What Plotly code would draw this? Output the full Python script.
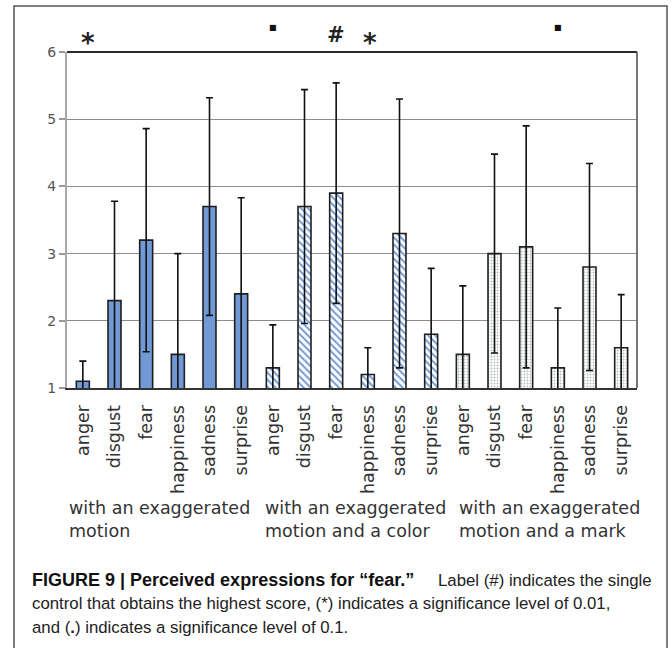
import plotly.graph_objects as go

# Emotion categories shown within each condition
emotions = ["anger", "disgust", "fear", "happiness", "sadness", "surprise"]

# Condition labels (shown beneath each block of six bars)
conditions = [
    "with an exaggerated<br>motion",
    "with an exaggerated<br>motion and a color",
    "with an exaggerated<br>motion and a mark",
]

# Mean perceived scores and standard deviations per condition
motion_mean = [1.1, 2.3, 3.2, 1.5, 3.7, 2.4]
motion_sd = [0.30, 1.48, 1.66, 1.50, 1.62, 1.43]

color_mean = [1.3, 3.7, 3.9, 1.2, 3.3, 1.8]
color_sd = [0.64, 1.74, 1.64, 0.40, 2.00, 0.98]

mark_mean = [1.5, 3.0, 3.1, 1.3, 2.8, 1.6]
mark_sd = [1.02, 1.48, 1.80, 0.89, 1.54, 0.79]

# Significance markers: position (bar index) and symbol
sig_index = [0, 6, 8, 9, 15]
sig_symbol = ["*", "■", "#", "*", "■"]

y_ticks = [1, 2, 3, 4, 5, 6]

# Caption text
caption_title = "<b>FIGURE 9 | Perceived expressions for “fear.”</b>"
caption_first = "Label (#) indicates the single"
caption_rest = [
    "control that obtains the highest score, (*) indicates a significance level of 0.01,",
    "and (<b>.</b>) indicates a significance level of 0.1.",
]

# ---- layout geometry (pixels) ----
W, H = 672, 648
PL, PR, PT, PB = 67, 637, 52, 388
pw, ph = PR - PL, PB - PT


def px_x(px):
    return (px - PL) / pw


def px_y(py):
    return (PB - py) / ph


n = len(emotions)
n_all = 3 * n
BLUE = "#7099d6"
EDGE = "#1f1f1f"


def idx_to_paper(i):
    return (i + 0.5) / n_all


fig = go.Figure()

series = [
    (motion_mean, motion_sd, None),
    (color_mean, color_sd, dict(shape="\\", fgcolor=BLUE, bgcolor="white",
                                size=5, solidity=0.4, fillmode="replace")),
    (mark_mean, mark_sd, dict(shape=".", fgcolor="#b9c0bf", bgcolor="white",
                              size=3, solidity=0.3, fillmode="replace")),
]

for g, (mean, sd, pattern) in enumerate(series):
    xs = [g * n + i for i in range(n)]
    marker = dict(color=BLUE if g == 0 else "white",
                  line=dict(color=EDGE, width=1.6))
    if pattern:
        marker["pattern"] = pattern
    fig.add_trace(go.Bar(
        x=xs, y=mean, width=0.41,
        marker=marker,
        error_y=dict(type="data", array=sd, visible=True,
                     color="#111111", thickness=1.6, width=3.5),
        showlegend=False,
        name=conditions[g].replace("<br>", " "),
    ))

fig.update_xaxes(
    range=[-0.5, n_all - 0.5],
    tickmode="array",
    tickvals=list(range(n_all)),
    ticktext=emotions * 3,
    tickangle=-90,
    ticks="",
    ticklabelstandoff=8,
    tickfont=dict(family="DejaVu Sans", size=17.5, color="#333333"),
    showgrid=False,
    showline=True, linecolor="#333333", linewidth=2,
    zeroline=False,
)
fig.update_yaxes(
    range=[1, 6],
    tickmode="array",
    tickvals=y_ticks,
    ticks="outside", ticklen=6, tickcolor="#9a9a9a", tickwidth=1.5,
    tickfont=dict(family="DejaVu Sans", size=14, color="#555555"),
    showgrid=True, gridcolor="#8c8c8c", gridwidth=1.3,
    showline=True, linecolor="#a8a8a8", linewidth=2,
    zeroline=False,
)

shapes = [
    # top border of plotting area (at y = 6)
    dict(type="line", xref="paper", yref="paper", x0=0, x1=1, y0=1, y1=1,
         line=dict(color="#2a2a2a", width=2)),
    # right border of plotting area
    dict(type="line", xref="paper", yref="paper", x0=1, x1=1, y0=0, y1=1,
         line=dict(color="#555555", width=1.6)),
    # outer frame around figure and caption
    dict(type="rect", xref="paper", yref="paper",
         x0=px_x(14), x1=px_x(667), y0=px_y(652), y1=px_y(6),
         line=dict(color="#555555", width=1.5), layer="below"),
]

annotations = []
for idx, sym in zip(sig_index, sig_symbol):
    xp = idx_to_paper(idx)
    common = dict(x=xp, xref="paper", yref="paper", text=sym, showarrow=False,
                  xanchor="center", yanchor="middle")
    if sym == "■":
        annotations.append(dict(common, y=px_y(27),
                                font=dict(family="DejaVu Sans", size=8, color="#111")))
    elif sym == "*":
        annotations.append(dict(common, y=px_y(43),
                                xshift=5 if idx == 0 else 2,
                                text="<b>*</b>",
                                font=dict(family="DejaVu Sans", size=26, color="#222")))
    else:
        annotations.append(dict(common, y=px_y(35),
                                text="<b>#</b>",
                                font=dict(family="DejaVu Sans", size=21, color="#222")))

# condition labels below the category labels
for left_px, text in zip([67, 263, 457], conditions):
    annotations.append(dict(
        x=px_x(left_px), y=px_y(496), xref="paper", yref="paper",
        xanchor="left", yanchor="top", align="left", text=text,
        showarrow=False,
        font=dict(family="DejaVu Sans", size=17.5, color="#333333"),
    ))

# figure caption
cap_font = dict(family="Liberation Sans", size=16.8, color="#222222")
annotations.append(dict(
    x=px_x(30), y=px_y(580), xref="paper", yref="paper",
    xanchor="left", yanchor="middle", text=caption_title, showarrow=False,
    font=dict(family="Liberation Sans", size=18, color="#111111"),
))
annotations.append(dict(
    x=px_x(654), y=px_y(580), xref="paper", yref="paper",
    xanchor="right", yanchor="middle", text=caption_first, showarrow=False,
    font=cap_font,
))
for line, cy in zip(caption_rest, [603.5, 627]):
    annotations.append(dict(
        x=px_x(30), y=px_y(cy), xref="paper", yref="paper",
        xanchor="left", yanchor="middle", align="left", text=line,
        showarrow=False, font=cap_font,
    ))

fig.update_layout(
    width=W, height=H,
    margin=dict(l=PL, r=W - PR, t=PT, b=H - PB),
    paper_bgcolor="white", plot_bgcolor="white",
    shapes=shapes,
    annotations=annotations,
)

fig.write_html("out.html")
